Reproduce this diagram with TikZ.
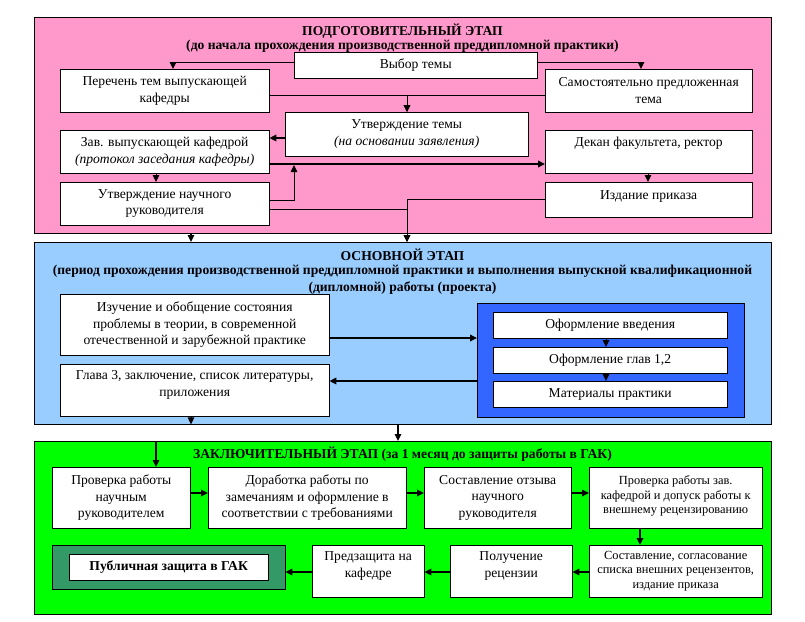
\documentclass[tikz,border=0pt]{standalone}
\usepackage{fontspec}
\setmainfont{Liberation Serif}
\usetikzlibrary{arrows.meta,positioning}
\definecolor{prepPink}{HTML}{FF99CC}
\definecolor{mainBlue}{HTML}{99CCFF}
\definecolor{innerBlue}{HTML}{3366FF}
\definecolor{finGreen}{HTML}{00FF00}
\definecolor{darkGreen}{HTML}{339966}
\begin{document}
\begin{tikzpicture}[x=1pt,y=-1pt,
    font=\fontsize{13.6}{16.5}\selectfont,
    wh/.style 2 args={minimum width=#1pt,minimum height=#2pt},
    stage/.style={draw,anchor=north west,inner sep=0pt},
    box/.style={draw,fill=white,anchor=north west,align=center,inner sep=0pt},
    small/.style={font=\fontsize{12.4}{14.5}\selectfont},
    title/.style={font=\bfseries\fontsize{13.6}{14.3}\selectfont,align=center},
    lift/.style={text depth=#1pt},
    link/.style={-{Triangle[length=7pt,width=6.5pt]},line width=1pt},
    heavy/.style={link,line width=2pt}]
    \useasboundingbox (0,0) rectangle (805,621);

    % Stage frames
    \node[stage,fill=prepPink,wh={737}{216}] (prep) at (34,17) {};
    \node[stage,fill=mainBlue,wh={737}{182}] (main) at (34,242) {};
    \node[stage,fill=finGreen,wh={737}{173}] (final) at (34,441) {};

    % Stage titles
    \node[title] (prepT) at (402.5,38.5) {ПОДГОТОВИТЕЛЬНЫЙ ЭТАП\\(до начала прохождения производственной преддипломной практики)};
    \node[title] (mainT) at (402.5,271.5) {ОСНОВНОЙ ЭТАП\\(период прохождения производственной преддипломной практики и выполнения выпускной квалификационной\\[3pt](дипломной) работы (проекта)};
    \node[title] (finalT) at (402.5,454) {ЗАКЛЮЧИТЕЛЬНЫЙ ЭТАП (за 1 месяц до защиты работы в ГАК)};

    % Preparatory stage boxes
    \node[box,wh={243}{26},lift=3] (vybor) at (294,52) {Выбор темы};
    \node[box,wh={209}{43}] (perechen) at (60,69) {Перечень тем выпускающей\\кафедры};
    \node[box,wh={207}{43}] (samost) at (545,69) {Самостоятельно предложенная\\тема};
    \node[box,wh={243}{44}] (utvtemy) at (285,112) {Утверждение темы\\\textit{(на основании заявления)}};
    \node[box,wh={209}{43}] (zav) at (60,130) {Зав. выпускающей кафедрой\\\textit{(протокол заседания кафедры)}};
    \node[box,wh={207}{43},lift=19] (dekan) at (545,130) {Декан факультета, ректор};
    \node[box,wh={207}{35},lift=10] (izdanie) at (545,182) {Издание приказа};
    \node[box,wh={209}{43}] (utvnauch) at (60,182) {Утверждение научного\\руководителя};

    % Main stage boxes
    \node[box,wh={269}{61}] (izuch) at (60,294) {Изучение и обобщение состояния\\проблемы в теории, в современной\\отечественной и зарубежной практике};
    \node[box,wh={269}{52},lift=13] (glava) at (60,364) {Глава 3, заключение, список литературы,\\приложения};
    \node[stage,fill=innerBlue,wh={267}{114}] (oform) at (477,303) {};
    \node[box,wh={234}{26}] (vved) at (493,312) {Оформление введения};
    \node[box,wh={234}{26}] (glav12) at (493,347) {Оформление глав 1,2};
    \node[box,wh={234}{26}] (mater) at (493,381) {Материалы практики};

    % Final stage boxes
    \node[box,wh={138}{61}] (provN) at (52,467) {Проверка работы\\научным\\руководителем};
    \node[box,wh={198}{61}] (dorab) at (208,467) {Доработка работы по\\замечаниям и оформление в\\соответствии с требованиями};
    \node[box,wh={147}{61}] (otzyv) at (424,467) {Составление отзыва\\научного\\руководителя};
    \node[box,small,wh={173}{61},lift=6] (provZ) at (589,467) {Проверка работы зав.\\кафедрой и допуск работы к\\внешнему рецензированию};
    \node[stage,fill=darkGreen,wh={233}{44}] (gakbox) at (52,545) {};
    \node[box,wh={199}{26},font=\bfseries\fontsize{13.6}{16.5}\selectfont] (gak) at (69,554) {Публичная защита в ГАК};
    \node[box,wh={112}{52},lift=13] (predz) at (312,545) {Предзащита на\\кафедре};
    \node[box,wh={122}{52},lift=13] (poluch) at (450,545) {Получение\\рецензии};
    \node[box,small,wh={173}{52}] (sostav) at (589,545) {Составление, согласование\\списка внешних рецензентов,\\издание приказа};

    % Connectors of the preparatory stage
    \draw[link] (vybor.west |- 0,62) -| (perechen.north -| 173,0);
    \draw[link] (vybor.east |- 0,62) -| (samost.north -| 641,0);
    \draw[link] (perechen.east |- 0,95) -| (utvtemy.north -| 407,0);
    \draw[link] (samost.west |- 0,95) -| (utvtemy.north -| 407,0);
    \draw[heavy] (utvtemy.west |- 0,138) -- (zav.east |- 0,138);
    \draw[heavy] (zav.east |- 0,164) -- (dekan.west |- 0,164);
    \coordinate (joinZD) at (294,165);
    \draw[link] (utvnauch.east |- 0,200) -| (joinZD);
    \draw[link] (zav.south -| 156,0) -- (utvnauch.north -| 156,0);
    \draw[link] (dekan.south -| 648,0) -- (izdanie.north -| 648,0);

    % Into the main stage
    \draw[link] (izdanie.west |- 0,199) -| (main.north -| 407,0);
    \draw[link] (utvnauch.east |- 0,209) -| (main.north -| 407,0);
    \draw[link,line width=1.5pt] (prep.south -| 191,0) -- (main.north -| 191,0);

    % Connectors of the main stage
    \draw[heavy] (izuch.east |- 0,338) -- (oform.west |- 0,338);
    \draw[heavy] (oform.west |- 0,381) -- (glava.east |- 0,381);
    \draw[link] (vved.south -| 606,0) -- (glav12.north -| 606,0);
    \draw[link] (glav12.south -| 606,0) -- (mater.north -| 606,0);
    \draw[link] (glava.south -| 191,0) -- (main.south -| 191,0);

    % Into the final stage
    \draw[link,line width=1.5pt] (main.south -| 398,0) -- (final.north -| 398,0);
    \draw[link,line width=1.5pt] (final.north -| 156,0) -- (provN.north -| 156,0);

    % Connectors of the final stage
    \draw[link,line width=1.6pt] (provN.east |- 0,493) -- (dorab.west |- 0,493);
    \draw[link,line width=1.6pt] (dorab.east |- 0,493) -- (otzyv.west |- 0,493);
    \draw[link,line width=1.6pt] (otzyv.east |- 0,493) -- (provZ.west |- 0,493);
    \draw[link,line width=1.6pt] (provZ.south -| 640,0) -- (sostav.north -| 640,0);
    \draw[link,line width=1.6pt] (sostav.west |- 0,572) -- (poluch.east |- 0,572);
    \draw[link,line width=1.6pt] (poluch.west |- 0,572) -- (predz.east |- 0,572);
    \draw[link,line width=1.6pt] (predz.west |- 0,572) -- (gakbox.east |- 0,572);
\end{tikzpicture}
\end{document}
